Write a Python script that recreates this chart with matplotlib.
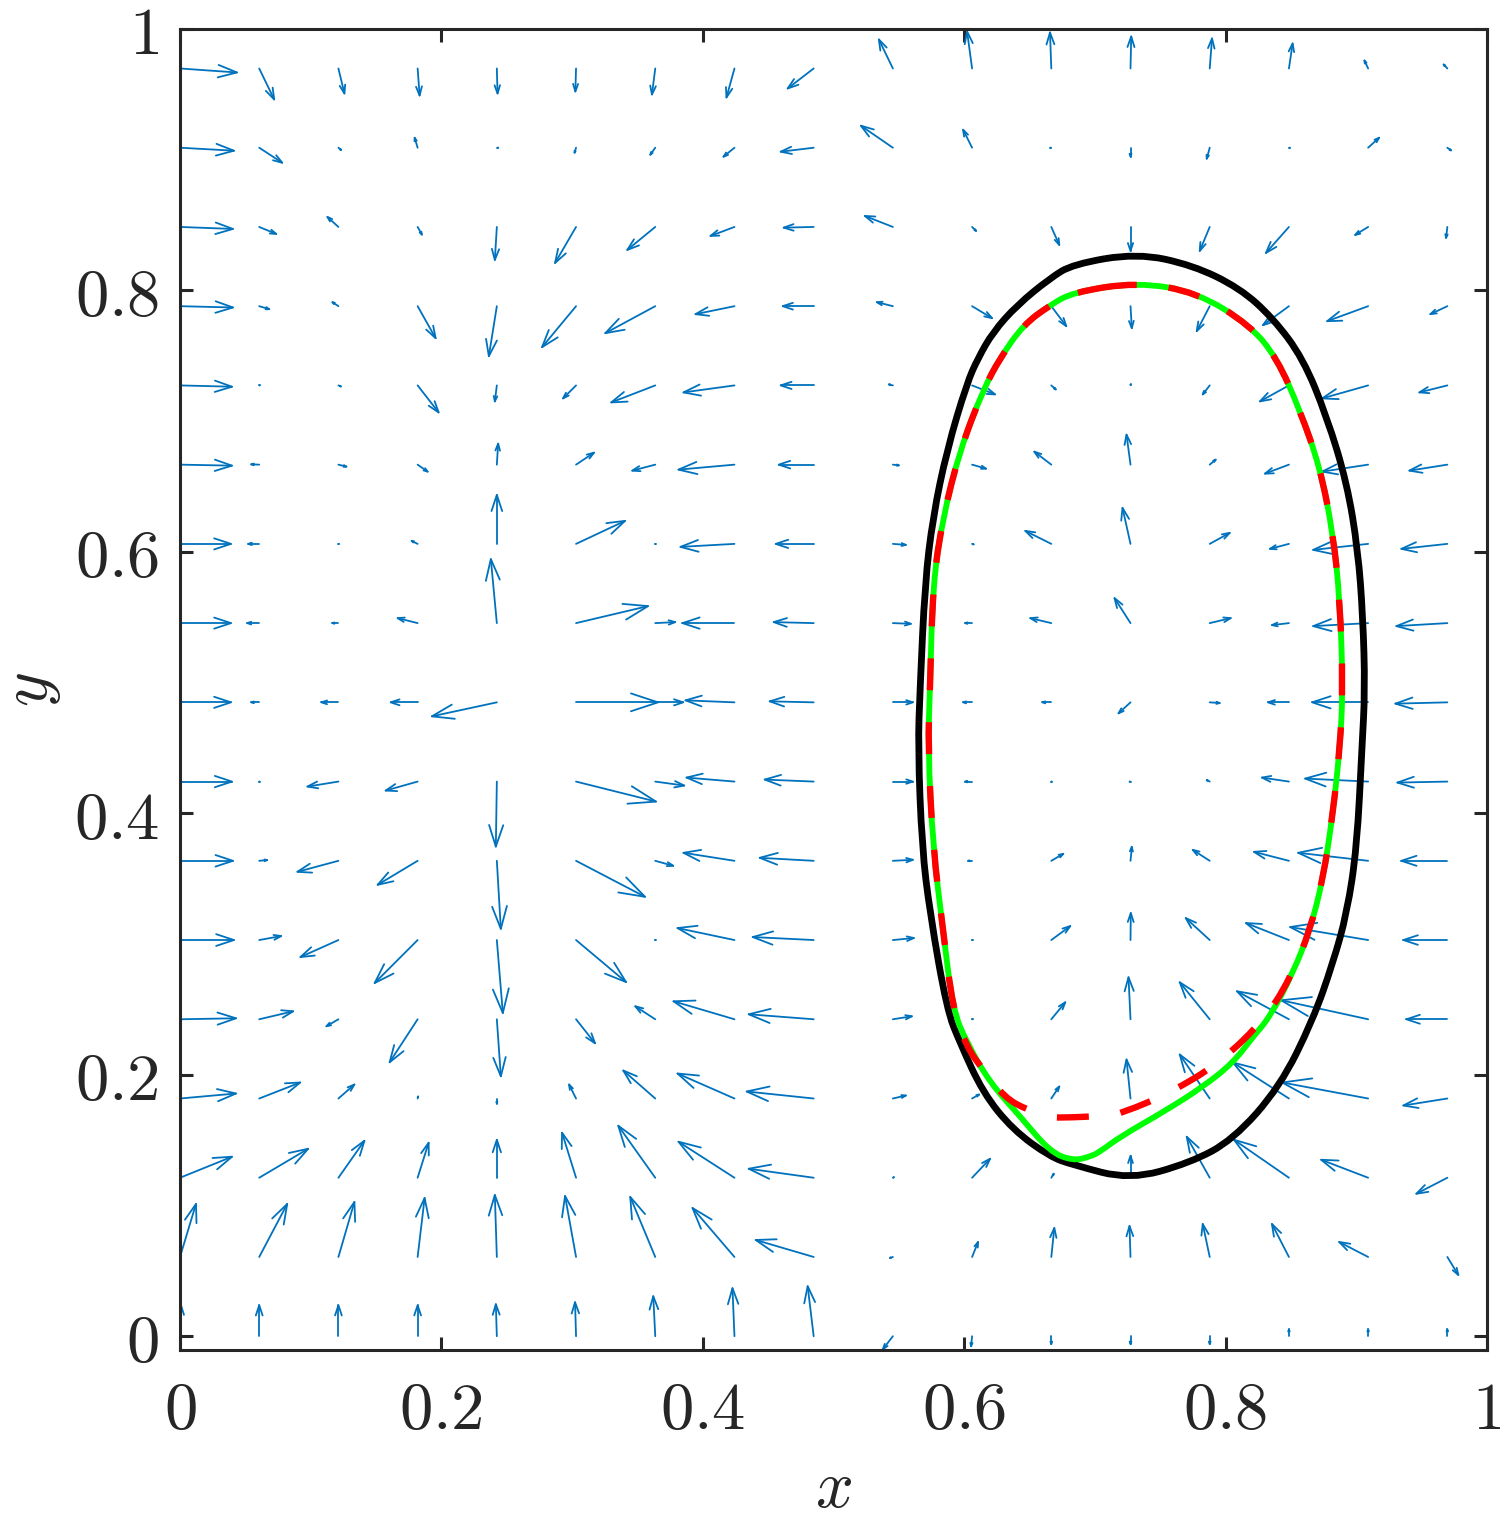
import numpy as np
import matplotlib
matplotlib.use("Agg")
import matplotlib.pyplot as plt
from matplotlib.collections import LineCollection
from matplotlib.ticker import FuncFormatter
from matplotlib.path import Path
from matplotlib.patches import PathPatch

plt.rcParams['mathtext.fontset'] = 'cm'
plt.rcParams['font.family'] = ['DejaVu Serif']

# ---------------- data ----------------
grid = np.arange(17) * 2.0 / 33.0          # quiver grid in x and y

# velocity components, rows from y=0 (bottom) to top, columns from x=0 to right
U = np.array([
    [0.7, 0, 0, 0, -1, -1, -2, -2, -6, -10, -1, 0, 0, 0, 0, 0, 0],
    [16, 28, 16, 7, -2, -11, -25, -42, -58, -3, 6, 3, -1, -7, -17, -29, 11],
    [52, 49, 26, 11, 0, -14, -37, -56, -65, 1, 18, 2.5, 0, -23, -55, -47, -31],
    [56, 41, 16, 0.5, 0, -7, -32, -57, -67, 13, 7, 8, -4, -30, -56, -86, -44],
    [56, 34, -12, -28, 4, 19, -20, -61, -65, 19, 0.5, 14, -2, -30, -52, -87, -41],
    [54, 22, -38, -43, 6, 50, 0.3, -57, -61, 21, 0.5, 19, 0.3, -24, -43, -78, -44],
    [53, 8, -41, -40, 4, 69, 18, -51, -54, 20, -4, 12, 1.3, -17, -35, -70, -46],
    [52, 0.3, -31, -32, -1, 80, 29, -48, -49, 20, -7, 0.5, -1, -3, -27, -63, -50],
    [51, -8, -17, -27, -65, 82, 28, -49, -44, 20, -9, -9, -12, 10, -21, -56, -52],
    [51, -12, -6, -20, -6, 72, 20, -52, -40, 18, -7, -21, -16, 21, -17, -55, -51],
    [51, -11, 0.5, -6, 0, 49, 0.3, -54, -38, 13, 1.5, -26, -8, 20, -19, -55, -46],
    [52, -8, 8, 10, 1.3, 18, -23, -56, -35, 6, 14, -17, -4, 6, -24, -46, -38],
    [52, 0.5, 2.5, 21, -2, -13, -44, -51, -33, -4, 23, 4.5, 0, -7, -29, -46, -28],
    [53, 10, -6, 18, -8, -34, -50, -39, -31, -16, 20, 15, 1.3, -13, -26, -41, -17],
    [53, 17, -11, 4.3, -2, -21, -28, -24, -30, -28, 4, 8, 0, -10, -23, -13, -1.3],
    [54, 23, 2.7, -3, 1.5, -1.5, -5, -11, -33, -32, -9, -1, 0, -3, 1, 11, 3.7],
    [57, 15, 6, 2, 0.7, -0.7, -3.3, -8, -26, -14, -5, -1.3, 0.7, 2.3, 3.7, -3.7, -3.7],
])
V = np.array([
    [32, 31, 31, 31, 32, 34, 40, 48, 50, -13, -10, -8, -8, -8, 7, 7, 7],
    [53, 53, 55, 59, 62, 61, 60, 49, 17, -1, 15, 29, 31, 33, 33, 15, -18],
    [21, 29, 37, 35, 38, 45, 52, 36, 9, 0.5, 19, 4, 22, 41, 38, 18, -16],
    [5, 16, 14, 2, -5, 14, 28, 25, 7, 3, 4, 12, 39, 44, 36, 16, -7],
    [1, 8, -7, -43, -57, -24, 13, 18, 5, 3, 0, 17, 42, 37, 28, 19, 0],
    [0, 4, -17, -43, -73, -42, 0, 12, 3, 2, 0, 14, 27, 22, 17, 13, 0],
    [0, 0.7, -11, -24, -68, -36, -5, 8, 3, 1, 0, 7, 14, 11, 9, 8, 0],
    [0, 0, -5, -9, -65, -20, -4, 4, 2, 0, 0, 0, 0, 1.5, 4, 3, -1],
    [0, 0, 0, 0, -14, 0, 0, 2, 1, 0, 0, 0, -11, -0.7, 0, 0, -1.3],
    [0, 0, 0, 5, 64, 17, 1, 0, 1, -0.7, 0, 5, 25, 5, -2, -3, -3],
    [0, 0, 0, 3, 49, 23, 0, -3, 0, -1, -0.5, 13, 36, 11, -5, -6, -5],
    [-1, 0.3, -2, -7, 21, 12, -6, -5, 0, -0.7, -4, 13, 30, 5, -9, -7, -6],
    [-1.3, 0, -1, -27, -16, -13, -17, -7, 0, 1, -9, -4, 1, -9, -16, -13, -7],
    [-1.3, -3, 4, -32, -50, -41, -27, -8, 0, 4, -12, -20, -22, -25, -19, -15, -8],
    [-2, -7, 10, -7.7, -33, -36, -23, -9, -0.7, 11, -4, -18, -24, -24, -26, -8, -11],
    [-3, -15, -2.3, 10, 0, -5, -7, -9, -4, 22, 18, 0, -9, -11, 0, 10, -2.7],
    [-4, -31, -25, -27, -25, -23, -26, -29, -20, 29, 37, 36, 32, 30, 25, 8, 4],
])

# closed interface curves (x, y)
black_x = [0.7322, 0.7750, 0.8110, 0.8363, 0.8592, 0.8776, 0.8929, 0.9013, 0.9051, 0.9067,
           0.9044, 0.9005, 0.8929, 0.8822, 0.8669, 0.8416, 0.8057, 0.7728, 0.7269, 0.6832,
           0.6656, 0.6373, 0.6144, 0.5968, 0.5868, 0.5738, 0.5677, 0.5647, 0.5662, 0.5700,
           0.5761, 0.5868, 0.6021, 0.6106, 0.6220, 0.6404, 0.6656, 0.6832]
black_y = [0.8284, 0.8192, 0.8016, 0.7787, 0.7481, 0.7030, 0.6525, 0.6013, 0.5501, 0.4943,
           0.4507, 0.3742, 0.3238, 0.2856, 0.2420, 0.1908, 0.1502, 0.1326, 0.1197, 0.1311,
           0.1373, 0.1579, 0.1862, 0.2244, 0.2496, 0.3238, 0.3742, 0.4507, 0.4943, 0.5761,
           0.6266, 0.6778, 0.7290, 0.7481, 0.7680, 0.7886, 0.8092, 0.8200]

green_x = [0.7322, 0.7781, 0.8187, 0.8393, 0.8569, 0.8722, 0.8822, 0.8875, 0.8898, 0.8875,
           0.8822, 0.8745, 0.8646, 0.8516, 0.8340, 0.8210, 0.8057, 0.7827, 0.7552, 0.7192,
           0.7039, 0.6963, 0.6832, 0.6656, 0.6427, 0.6198, 0.6021, 0.5914, 0.5838, 0.5761,
           0.5723, 0.5738, 0.5761, 0.5838, 0.5968, 0.6144, 0.6274, 0.6450, 0.6656, 0.6832]
green_y = [0.8062, 0.7985, 0.7733, 0.7481, 0.7083, 0.6647, 0.6143, 0.5631, 0.4943, 0.4507,
           0.4003, 0.3490, 0.3108, 0.2779, 0.2443, 0.2290, 0.2091, 0.1908, 0.1732, 0.1525,
           0.1411, 0.1373, 0.1342, 0.1411, 0.1683, 0.1938, 0.2244, 0.2496, 0.3108, 0.3742,
           0.4507, 0.4943, 0.5761, 0.6266, 0.6778, 0.7236, 0.7481, 0.7733, 0.7886, 0.7985]

red_x = [0.7322, 0.7781, 0.8187, 0.8393, 0.8569, 0.8722, 0.8822, 0.8875, 0.8898, 0.8875,
         0.8822, 0.8745, 0.8646, 0.8516, 0.8317, 0.7957, 0.7575, 0.7215, 0.7093, 0.6733,
         0.6656, 0.6481, 0.6312, 0.6144, 0.6021, 0.5914, 0.5838, 0.5761,
         0.5723, 0.5738, 0.5761, 0.5838, 0.5968, 0.6144, 0.6274, 0.6450, 0.6656, 0.6832]
red_y = [0.8062, 0.7985, 0.7733, 0.7481, 0.7083, 0.6647, 0.6143, 0.5631, 0.4943, 0.4507,
         0.4003, 0.3490, 0.3108, 0.2779, 0.2443, 0.2091, 0.1861, 0.1709, 0.1686, 0.1670,
         0.1678, 0.1732, 0.1824, 0.2038, 0.2210, 0.2496, 0.3108, 0.3742,
         0.4507, 0.4943, 0.5761, 0.6266, 0.6778, 0.7236, 0.7481, 0.7733, 0.7886, 0.7985]

tick_vals = [0, 0.2, 0.4, 0.6, 0.8, 1]

# ---------------- style ----------------
ARROW_SCALE = 1.0 / 1307.5
ALPHA, BETA = 0.33, 0.33
QCOLOR = '#0072BD'
AXCOLOR = '#262626'
FS = 48

fig = plt.figure(figsize=(15.0, 15.19), dpi=100)
ax = fig.add_axes([0.12, 0.1113, 0.8713, 0.8697])

X, Y = np.meshgrid(grid, grid)
u = U * ARROW_SCALE
v = V * ARROW_SCALE
tx, ty = X + u, Y + v
h1x = tx - ALPHA * (u + BETA * v)
h1y = ty - ALPHA * (v - BETA * u)
h2x = tx - ALPHA * (u - BETA * v)
h2y = ty - ALPHA * (v + BETA * u)
segs = []
for i in range(X.size):
    x0, y0 = X.flat[i], Y.flat[i]
    segs.append([(x0, y0), (tx.flat[i], ty.flat[i])])
    segs.append([(h1x.flat[i], h1y.flat[i]), (tx.flat[i], ty.flat[i]),
                 (h2x.flat[i], h2y.flat[i])])
lc = LineCollection(segs, colors=QCOLOR, linewidths=1.3, zorder=2,
                    capstyle='round', joinstyle='round')
ax.add_collection(lc)


def smooth_closed_path(xs, ys):
    """Closed quadratic B-spline path with the read points as control points."""
    p = np.column_stack([xs, ys])
    n = len(p)
    mids = (p + np.roll(p, -1, axis=0)) / 2.0
    verts = [tuple(mids[-1])]
    codes = [Path.MOVETO]
    for i in range(n):
        verts += [tuple(p[i]), tuple(mids[i])]
        codes += [Path.CURVE3, Path.CURVE3]
    return Path(verts, codes)


ax.add_patch(PathPatch(smooth_closed_path(black_x, black_y), fill=False,
                       edgecolor='black', lw=4.9, zorder=3, joinstyle='round'))
ax.add_patch(PathPatch(smooth_closed_path(green_x, green_y), fill=False,
                       edgecolor='#00FF00', lw=4.2, zorder=4, joinstyle='round'))
ax.add_patch(PathPatch(smooth_closed_path(red_x, red_y), fill=False,
                       edgecolor='#FF0000', lw=4.6, zorder=5,
                       linestyle=(0, (5.0, 5.0)), capstyle='butt'))

ax.set_xlim(0, 1)
ax.set_ylim(-0.0105, 1.0)
ax.set_xticks(tick_vals)
ax.set_yticks(tick_vals)
fmt = FuncFormatter(lambda val, pos: f"${val:g}$")
ax.xaxis.set_major_formatter(fmt)
ax.yaxis.set_major_formatter(fmt)
ax.tick_params(direction='in', length=9.5, width=2.2, colors=AXCOLOR,
               labelsize=FS, top=True, right=True)
ax.tick_params(axis='x', pad=20)
ax.tick_params(axis='y', pad=15)
for s in ax.spines.values():
    s.set_linewidth(2.2)
    s.set_color(AXCOLOR)
ax.set_xlabel('$x$', fontsize=FS, color=AXCOLOR, labelpad=9)
ax.set_ylabel('$y$', fontsize=FS, color=AXCOLOR, labelpad=8)

fig.savefig('out.png', dpi=100)
